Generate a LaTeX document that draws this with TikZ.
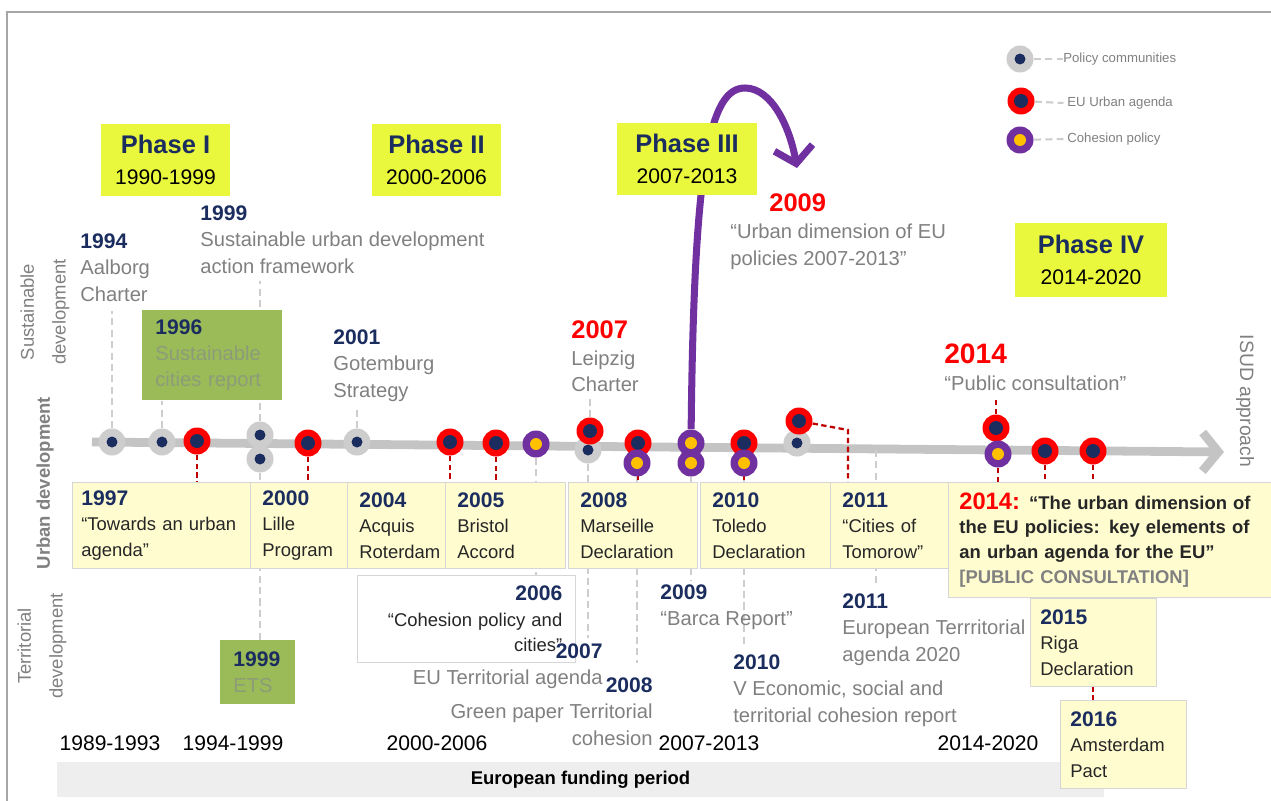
\documentclass[tikz,border=0pt]{standalone}
\usepackage{fontspec}
\setmainfont{Liberation Sans}
\usetikzlibrary{arrows.meta,backgrounds}
\hyphenpenalty=10000
\exhyphenpenalty=10000

\definecolor{navy}{HTML}{1B2D5E}
\definecolor{eured}{HTML}{FF0000}
\definecolor{linkred}{HTML}{C00000}
\definecolor{cohpurple}{HTML}{7030A0}
\definecolor{dotyellow}{HTML}{FFC000}
\definecolor{pcgray}{HTML}{CDCDCD}
\definecolor{axisgray}{HTML}{C4C4C4}
\definecolor{txtgray}{HTML}{808080}
\definecolor{phasey}{HTML}{E9F83C}
\definecolor{boxfill}{HTML}{FFFDD0}
\definecolor{boxline}{HTML}{D6D6D6}
\definecolor{olivebox}{HTML}{9BBB59}
\definecolor{olivetxt}{HTML}{8C9C78}
\definecolor{barfill}{HTML}{EEEEEE}
\definecolor{framegray}{HTML}{A6A6A6}

\newcommand{\yr}[1]{{\fontsize{12}{14}\selectfont\bfseries\color{navy}#1}}
\newcommand{\ryr}[2][14.5]{{\fontsize{#1}{14}\selectfont\bfseries\color{eured}#2}}
\newcommand{\phtitle}[1]{{\fontsize{14.5}{17.5}\selectfont\bfseries\color{navy}#1}}

\tikzset{
  every node/.style={inner sep=0pt},
  commu/.style={circle,fill=pcgray,minimum size=0.54cm,
    path picture={\fill[navy] (path picture bounding box.center) circle (0.11cm);}},
  urban/.style={circle,fill=eured,minimum size=0.54cm,
    path picture={\fill[navy] (path picture bounding box.center) circle (0.14cm);}},
  cohes/.style={circle,fill=cohpurple,minimum size=0.54cm,
    path picture={\fill[dotyellow] (path picture bounding box.center) circle (0.12cm);}},
  gdash/.style={draw=pcgray,line width=1.6pt,dash pattern=on 4pt off 2.5pt},
  rdash/.style={draw=linkred,line width=1.3pt,dash pattern=on 3pt off 2pt},
  axisline/.style={draw=axisgray,line width=5pt,-{Straight Barb[length=9pt,width=22pt]}},
  cohline/.style={draw=cohpurple,line width=4pt,-{Straight Barb[length=9pt,width=22pt]}},
  phase/.style={fill=phasey,align=center,font=\fontsize{12}{17.5}\selectfont},
  lbl/.style={align=left,anchor=north west,text=txtgray,font=\fontsize{11.5}{15.3}\selectfont},
  lblr/.style={lbl,align=right,anchor=north east},
  ubox/.style={draw=boxline,fill=boxfill,align=left,anchor=north west,inner xsep=0.24cm,
    minimum height=1.72cm,text=black!85,font=\fontsize{10.5}{14.5}\selectfont},
  gbox/.style={fill=olivebox,align=left,anchor=north west,inner xsep=0.26cm,text=olivetxt,
    font=\fontsize{11.5}{15}\selectfont},
  period/.style={font=\fontsize{12}{14}\selectfont},
  side/.style={text=txtgray,align=center,font=\fontsize{10.5}{18}\selectfont},
  legtxt/.style={anchor=west,text=txtgray,font=\fontsize{7.5}{9}\selectfont},
}

\begin{document}
\begin{tikzpicture}[x=0.02cm,y=-0.02cm]
\useasboundingbox (0,0) rectangle (1271,801);
\draw[framegray,line width=0.8pt] (1271,12) -- (7,12) -- (7,801);
\node[fill=barfill,minimum width=20.94cm,minimum height=0.7cm,font=\fontsize{10.5}{12}\selectfont\bfseries] (fund) at (580.5,779.5) {European funding period};

\node[phase,minimum width=2.58cm,minimum height=1.44cm] (ph1) at (165.5,160) {\phtitle{Phase I}\\1990-1999};
\node[phase,minimum width=2.58cm,minimum height=1.44cm] (ph2) at (436.5,160) {\phtitle{Phase II}\\2000-2006};
\node[phase,minimum width=2.8cm,minimum height=1.44cm] (ph3) at (687,159) {\phtitle{Phase III}\\2007-2013};
\node[phase,minimum width=3.04cm,minimum height=1.48cm] (ph4) at (1091,260) {\phtitle{Phase IV}\\2014-2020};

\node[side,rotate=90] (sdev) at (45,312) {Sustainable\\development};
\node[side,rotate=90,font=\fontsize{10.5}{12}\selectfont\bfseries] (udev) at (45,483) {Urban development};
\node[side,rotate=90] (tdev) at (42,646) {Territorial\\development};
\node[side,rotate=-90,font=\fontsize{11}{12}\selectfont] (isud) at (1245,401) {ISUD approach};

\node[commu] (legpc) at (1020,59) {};
\node[urban] (legeu) at (1021,101) {};
\node[cohes] (legcp) at (1020,140) {};
\node[legtxt] (legpctxt) at (1063,59) {Policy communities};
\node[legtxt] (legeutxt) at (1067,103) {EU Urban agenda};
\node[legtxt] (legcptxt) at (1067,139) {Cohesion policy};

\node[lbl] (l1994) at (80,233) {\yr{1994}\\Aalborg\\Charter};
\node[lbl] (l1999) at (200,205) {\yr{1999}\\Sustainable urban development\\action framework};
\node[lbl] (l2001) at (333,329) {\yr{2001}\\Gotemburg\\Strategy};
\node[lbl] (l2007) at (571,320) {\ryr{2007}\\Leipzig\\Charter};
\node[lbl,anchor=west] (r2009) at (769,203) {\ryr{2009}};
\node[lbl] (l2009) at (730,224) {“Urban dimension of EU\\policies 2007-2013”};
\node[lbl] (l2014) at (944,344) {\ryr[16]{2014}\\“Public consultation”};

\node[gbox,text width=2.28cm,minimum height=1.8cm] (g1996) at (142,310) {\yr{1996}\\Sustainable\\cities report};
\node[gbox,text width=0.98cm,minimum height=1.28cm] (ets) at (220,640) {\yr{1999}\\ETS};

\node[ubox,text width=3.2cm,inner xsep=0.18cm] (b1997) at (72,482) {\yr{1997}\\“Towards an urban\\agenda”};
\node[ubox,text width=1.46cm] (b2000) at (250,482) {\yr{2000}\\Lille\\Program};
\node[ubox,text width=1.48cm] (b2004) at (347,482) {\yr{2004}\\Acquis\\Roterdam};
\node[ubox,text width=1.92cm] (b2005) at (445,482) {\yr{2005}\\Bristol\\Accord};
\node[ubox,text width=2.10cm] (b2008) at (568,482) {\yr{2008}\\Marseille\\Declaration};
\node[ubox,text width=2.12cm] (b2010) at (700,482) {\yr{2010}\\Toledo\\Declaration};
\node[ubox,text width=1.88cm] (b2011) at (830,482) {\yr{2011}\\“Cities of\\Tomorow”};
\node[ubox,text width=6.4cm,inner xsep=0.22cm,minimum height=2.3cm,font=\fontsize{10.5}{14}\selectfont\bfseries] (b2014) at (948,482)
  {{\fontsize{13.5}{14}\selectfont\color{eured}2014:} “The urban dimension of\\the EU policies: key elements of\\an urban agenda for the EU”\\{\color{txtgray}[PUBLIC CONSULTATION]}};
\node[ubox,text width=2.12cm,inner xsep=0.2cm,minimum height=1.76cm] (b2015) at (1030,598) {\yr{2015}\\Riga\\Declaration};
\node[ubox,text width=2.12cm,inner xsep=0.2cm,minimum height=1.76cm] (b2016) at (1060,700) {\yr{2016}\\Amsterdam\\Pact};
\node[ubox,fill=white,align=right,text width=3.84cm,inner xsep=0.26cm,minimum height=1.74cm] (b2006) at (357,575) {\yr{2006}\\“Cohesion policy and\\cities”};

\node[lblr] (l2007t) at (603,643) {\yr{2007}\\EU Territorial agenda};
\node[lblr] (l2008t) at (653,677) {\yr{2008}\\Green paper Territorial\\cohesion};
\node[lbl] (l2009t) at (660,584) {\yr{2009}\\“Barca Report”};
\node[lbl] (l2010t) at (733,654) {\yr{2010}\\V Economic, social and\\territorial cohesion report};
\node[lbl] (l2011t) at (842,593) {\yr{2011}\\European Terrritorial\\agenda 2020};

\node[period] (p1) at (110,743) {1989-1993};
\node[period] (p2) at (233,743) {1994-1999};
\node[period] (p3) at (437,743) {2000-2006};
\node[period] (p4) at (709,743) {2007-2013};
\node[period] (p5) at (988,743) {2014-2020};

\foreach \nm/\x/\y in {112/112/442,162/162/442,260a/260/435,260b/260/459,357/357/442,588/588/450,797/797/443}
  \node[commu] (pc\nm) at (\x,\y) {};
\foreach \nm/\x/\y in {197/197/441,308/308/443,450/450/442,496/496/443,590/590/431,638/638/443,744/744/443,799/799/421,996/996/428,1045/1045/451,1093/1093/451}
  \node[urban] (eu\nm) at (\x,\y) {};
\foreach \nm/\x/\y in {536/536/444,637/637/463,691a/691/443,691b/691/463,744/744/463,998/998/454}
  \node[cohes] (cp\nm) at (\x,\y) {};

\coordinate (ax0) at (92,442);
\coordinate (ax1) at (1224,452);
\coordinate (ax876) at (876,450);
\coordinate (knee) at (848,430);
\coordinate (arrtip) at (797,168);

\begin{scope}[on background layer]
\draw[axisline] (ax0) -- (ax1);
\draw[cohline] (cp691a) .. controls (694,160) and (710,88) .. (745,88) .. controls (772,88) and (790,128) .. (arrtip);
\draw[gdash,line width=1.2pt] (legpc) -- (legpctxt.west);
\draw[gdash,line width=1.2pt] (legeu) -- ([xshift=-2pt]legeutxt.west);
\draw[gdash,line width=1.2pt] (legcp) -- ([xshift=-2pt]legcptxt.west);
\draw[gdash,shorten >=5pt] (pc112) -- (pc112 |- l1994.south);
\draw[gdash] (pc162) -- (pc162 |- g1996.south);
\draw[gdash,shorten >=4pt] (pc260a) -- (pc260a |- l1999.south);
\draw[gdash] (pc260b) -- (pc260b |- ets.north);
\draw[gdash,shorten >=4pt] (pc357) -- (pc357 |- l2001.south);
\draw[gdash,shorten >=3pt] (eu590) -- (eu590 |- l2007.south);
\draw[gdash] (cp536) -- (cp536 |- b2006.north);
\draw[gdash,shorten >=3pt] (pc588) -- (pc588 |- l2007t.north);
\draw[gdash,shorten >=8pt] (cp637) -- (cp637 |- l2008t.north);
\draw[gdash,shorten >=2pt] (cp691b) -- (cp691b |- l2009t.north);
\draw[gdash,shorten >=4pt] (cp744) -- (cp744 |- l2010t.north);
\draw[gdash,shorten >=4pt] (ax876) -- (ax876 |- l2011t.north);
\draw[rdash] (eu197) -- (eu197 |- b1997.north);
\draw[rdash] (eu308) -- (eu308 |- b2000.north);
\draw[rdash] (eu450) -- (eu450 |- b2005.north);
\draw[rdash] (eu496) -- (eu496 |- b2005.north);
\draw[rdash] (eu638) -- (eu638 |- b2008.north);
\draw[rdash] (eu744) -- (eu744 |- b2010.north);
\draw[rdash] (eu799) -- (knee) -- (knee |- b2011.north);
\draw[rdash,shorten >=3pt] (eu996) -- (eu996 |- l2014.south);
\draw[rdash] (cp998) -- (cp998 |- b2014.north);
\draw[rdash] (eu1045) -- (eu1045 |- b2014.north);
\draw[rdash] (eu1093) -- (eu1093 |- b2014.north);
\draw[rdash] (eu1093 |- b2015.south) -- (eu1093 |- b2016.north);
\end{scope}
\end{tikzpicture}
\end{document}
